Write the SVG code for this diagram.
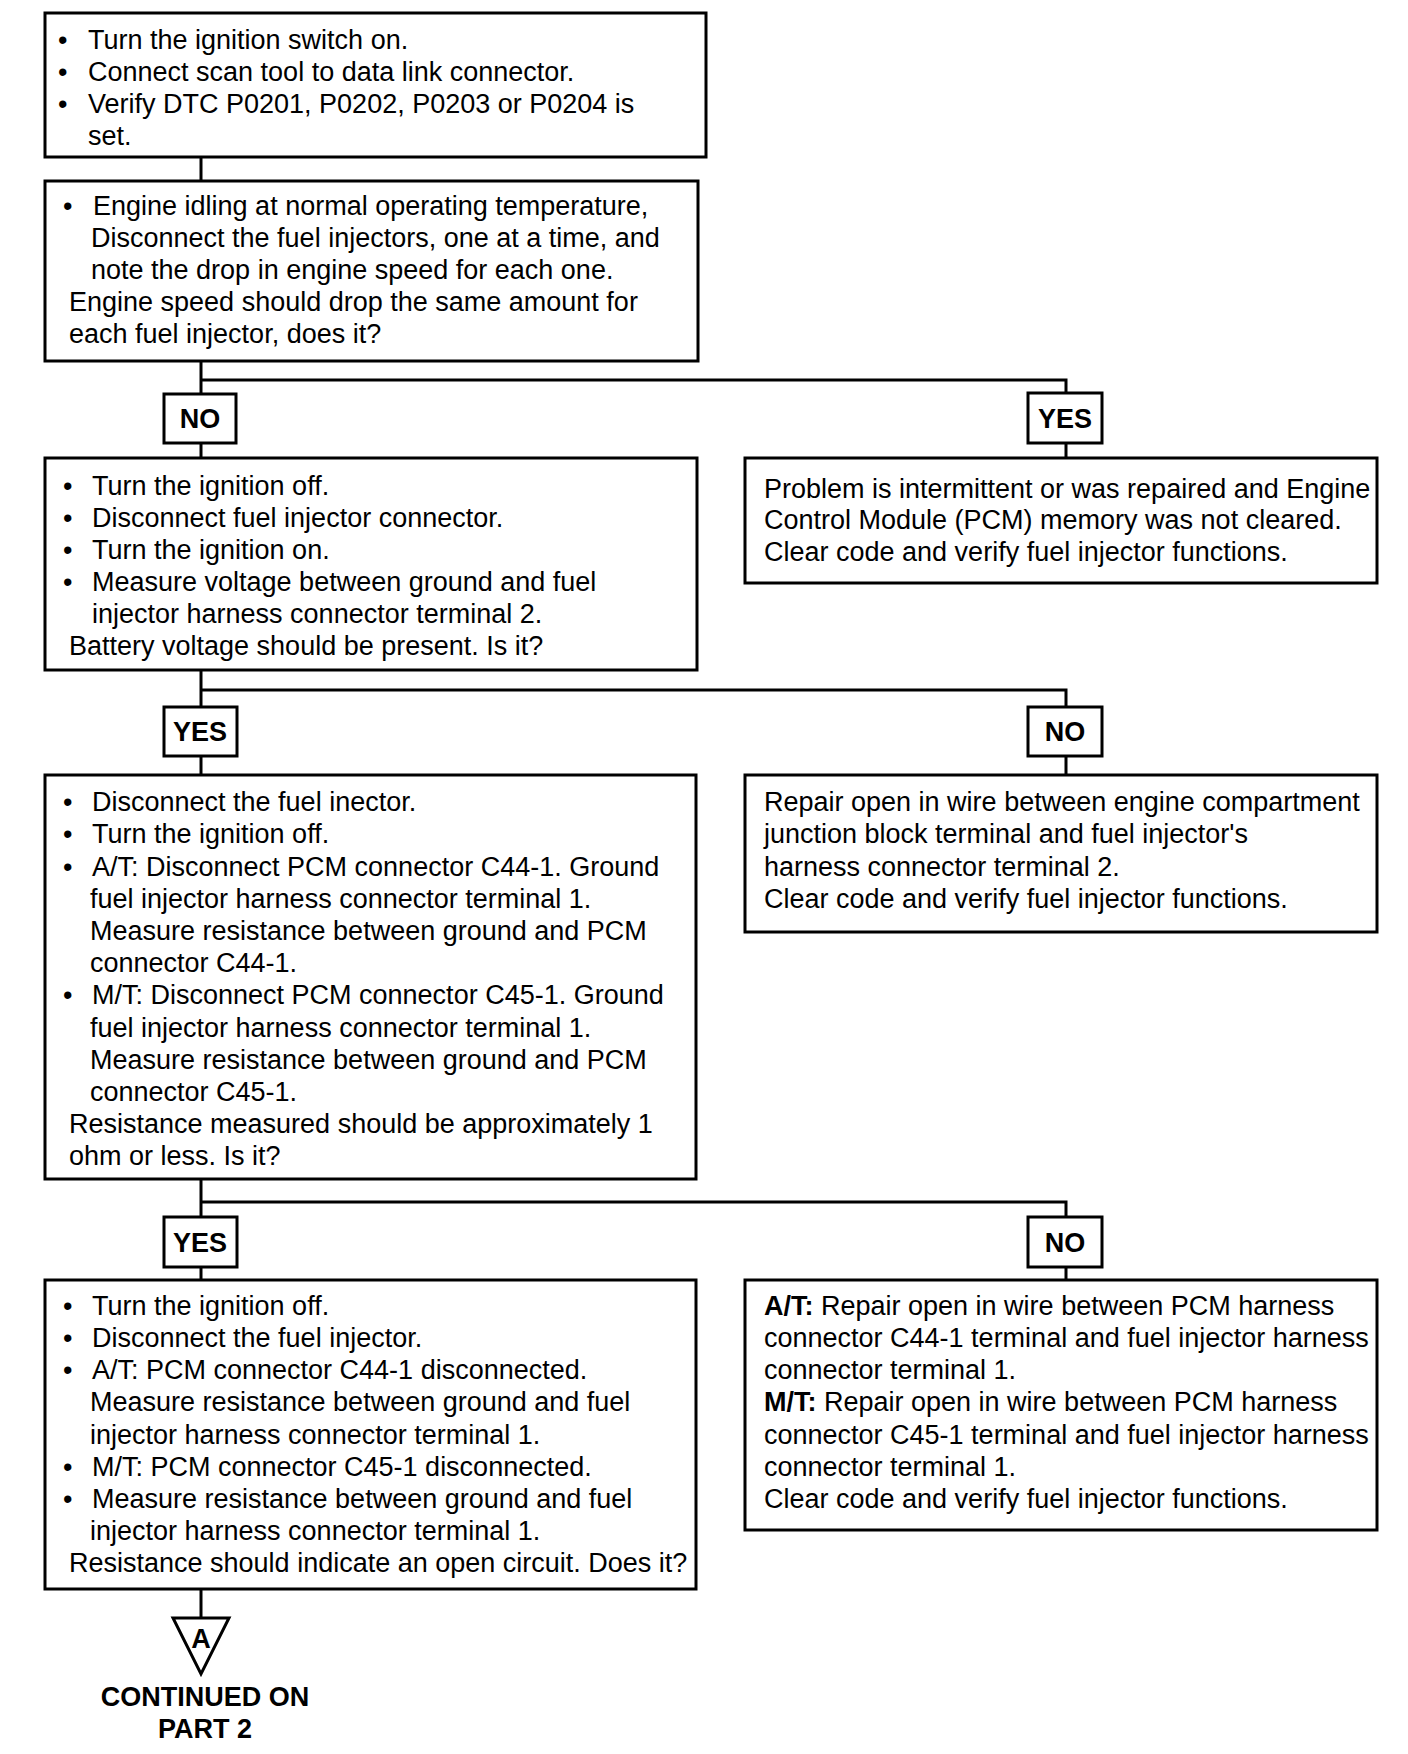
<svg xmlns="http://www.w3.org/2000/svg" width="1408" height="1754" viewBox="0 0 1408 1754">
<style>
.box{fill:#fff;stroke:#000;stroke-width:3}
.lbl{fill:#fff;stroke:#000;stroke-width:3}
.t{font-family:"Liberation Sans",Arial,sans-serif;font-size:27px;fill:#000}
.b{font-family:"Liberation Sans",Arial,sans-serif;font-size:27px;font-weight:bold;fill:#000}
.ln{fill:none;stroke:#000;stroke-width:3}
</style>
<rect width="1408" height="1754" fill="#fff"/>
<g id="connectors">
<line class="ln" x1="201" y1="157" x2="201" y2="181"/>
<polyline class="ln" points="201,361 201,458"/>
<polyline class="ln" points="201,380 1066,380 1066,458"/>
<polyline class="ln" points="201,670 201,775"/>
<polyline class="ln" points="201,690 1066,690 1066,775"/>
<polyline class="ln" points="201,1179 201,1280"/>
<polyline class="ln" points="201,1202 1066,1202 1066,1280"/>
<polyline class="ln" points="201,1589 201,1618"/>
</g>
<g id="box1">
<rect class="box" x="45" y="13" width="661" height="144"/>
<text class="t"><tspan x="58" y="49">•</tspan><tspan x="88" y="49">Turn the ignition switch on.</tspan><tspan x="58" y="81">•</tspan><tspan x="88" y="81">Connect scan tool to data link connector.</tspan><tspan x="58" y="113">•</tspan><tspan x="88" y="113">Verify DTC P0201, P0202, P0203 or P0204 is</tspan><tspan x="88" y="145">set.</tspan></text>
</g>
<g id="box2">
<rect class="box" x="45" y="181" width="653" height="180"/>
<text class="t"><tspan x="63" y="215">•</tspan><tspan x="93" y="215">Engine idling at normal operating temperature,</tspan><tspan x="91" y="247">Disconnect the fuel injectors, one at a time, and</tspan><tspan x="91" y="279">note the drop in engine speed for each one.</tspan><tspan x="69" y="311">Engine speed should drop the same amount for</tspan><tspan x="69" y="343">each fuel injector, does it?</tspan></text>
</g>
<g id="lbl-no1">
<rect class="lbl" x="164" y="394" width="72" height="49"/>
<text class="b" x="200" y="428" text-anchor="middle">NO</text>
</g>
<g id="lbl-yes1">
<rect class="lbl" x="1028" y="393" width="74" height="50"/>
<text class="b" x="1065" y="428" text-anchor="middle">YES</text>
</g>
<g id="box3">
<rect class="box" x="45" y="458" width="652" height="212"/>
<text class="t"><tspan x="63" y="495">•</tspan><tspan x="92" y="495">Turn the ignition off.</tspan><tspan x="63" y="527">•</tspan><tspan x="92" y="527">Disconnect fuel injector connector.</tspan><tspan x="63" y="559">•</tspan><tspan x="92" y="559">Turn the ignition on.</tspan><tspan x="63" y="591">•</tspan><tspan x="92" y="591">Measure voltage between ground and fuel</tspan><tspan x="92" y="623">injector harness connector terminal 2.</tspan><tspan x="69" y="655">Battery voltage should be present. Is it?</tspan></text>
</g>
<g id="box-r1">
<rect class="box" x="745" y="458" width="632" height="125"/>
<text class="t"><tspan x="764" y="498">Problem is intermittent or was repaired and Engine</tspan><tspan x="764" y="529">Control Module (PCM) memory was not cleared.</tspan><tspan x="764" y="561">Clear code and verify fuel injector functions.</tspan></text>
</g>
<g id="lbl-yes2">
<rect class="lbl" x="164" y="707" width="73" height="49"/>
<text class="b" x="200" y="741" text-anchor="middle">YES</text>
</g>
<g id="lbl-no2">
<rect class="lbl" x="1028" y="707" width="74" height="49"/>
<text class="b" x="1065" y="741" text-anchor="middle">NO</text>
</g>
<g id="box4">
<rect class="box" x="45" y="775" width="651" height="404"/>
<text class="t"><tspan x="63" y="811">•</tspan><tspan x="92" y="811">Disconnect the fuel inector.</tspan><tspan x="63" y="843">•</tspan><tspan x="92" y="843">Turn the ignition off.</tspan><tspan x="63" y="876">•</tspan><tspan x="92" y="876">A/T: Disconnect PCM connector C44-1. Ground</tspan><tspan x="90" y="908">fuel injector harness connector terminal 1.</tspan><tspan x="90" y="940">Measure resistance between ground and PCM</tspan><tspan x="90" y="972">connector C44-1.</tspan><tspan x="63" y="1004">•</tspan><tspan x="92" y="1004">M/T: Disconnect PCM connector C45-1. Ground</tspan><tspan x="90" y="1037">fuel injector harness connector terminal 1.</tspan><tspan x="90" y="1069">Measure resistance between ground and PCM</tspan><tspan x="90" y="1101">connector C45-1.</tspan><tspan x="69" y="1133">Resistance measured should be approximately 1</tspan><tspan x="69" y="1165">ohm or less. Is it?</tspan></text>
</g>
<g id="box-r2">
<rect class="box" x="745" y="775" width="632" height="157"/>
<text class="t"><tspan x="764" y="811">Repair open in wire between engine compartment</tspan><tspan x="764" y="843">junction block terminal and fuel injector's</tspan><tspan x="764" y="876">harness connector terminal 2.</tspan><tspan x="764" y="908">Clear code and verify fuel injector functions.</tspan></text>
</g>
<g id="lbl-yes3">
<rect class="lbl" x="164" y="1217" width="73" height="50"/>
<text class="b" x="200" y="1252" text-anchor="middle">YES</text>
</g>
<g id="lbl-no3">
<rect class="lbl" x="1028" y="1217" width="74" height="50"/>
<text class="b" x="1065" y="1252" text-anchor="middle">NO</text>
</g>
<g id="box5">
<rect class="box" x="45" y="1280" width="651" height="309"/>
<text class="t"><tspan x="63" y="1315">•</tspan><tspan x="92" y="1315">Turn the ignition off.</tspan><tspan x="63" y="1347">•</tspan><tspan x="92" y="1347">Disconnect the fuel injector.</tspan><tspan x="63" y="1379">•</tspan><tspan x="92" y="1379">A/T: PCM connector C44-1 disconnected.</tspan><tspan x="90" y="1411">Measure resistance between ground and fuel</tspan><tspan x="90" y="1444">injector harness connector terminal 1.</tspan><tspan x="63" y="1476">•</tspan><tspan x="92" y="1476">M/T: PCM connector C45-1 disconnected.</tspan><tspan x="63" y="1508">•</tspan><tspan x="92" y="1508">Measure resistance between ground and fuel</tspan><tspan x="90" y="1540">injector harness connector terminal 1.</tspan><tspan x="69" y="1572">Resistance should indicate an open circuit. Does it?</tspan></text>
</g>
<g id="box-r3">
<rect class="box" x="745" y="1280" width="632" height="250"/>
<text class="t"><tspan x="764" y="1315" font-weight="bold">A/T:</tspan><tspan> Repair open in wire between PCM harness</tspan><tspan x="764" y="1347">connector C44-1 terminal and fuel injector harness</tspan><tspan x="764" y="1379">connector terminal 1.</tspan><tspan x="764" y="1411" font-weight="bold">M/T:</tspan><tspan> Repair open in wire between PCM harness</tspan><tspan x="764" y="1444">connector C45-1 terminal and fuel injector harness</tspan><tspan x="764" y="1476">connector terminal 1.</tspan><tspan x="764" y="1508">Clear code and verify fuel injector functions.</tspan></text>
</g>
<g id="offpage-a">
<polygon points="173,1618 229,1618 201,1674" fill="#fff" stroke="#000" stroke-width="3" stroke-linejoin="miter"/>
<text class="b" x="201" y="1648" text-anchor="middle" font-size="24">A</text>
<text class="b" x="205" y="1706" text-anchor="middle">CONTINUED ON</text>
<text class="b" x="205" y="1738" text-anchor="middle">PART  2</text>
</g>
</svg>
